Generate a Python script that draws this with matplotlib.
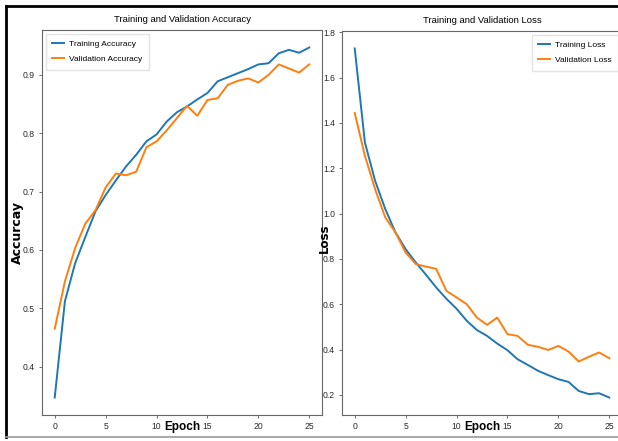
import matplotlib
matplotlib.use("Agg")
import matplotlib.pyplot as plt
from matplotlib.lines import Line2D

plt.rcParams['font.family'] = ['Liberation Sans', 'DejaVu Sans']

epochs = list(range(26))

train_acc = [0.347, 0.512, 0.577, 0.622, 0.666, 0.694, 0.719, 0.743, 0.763, 0.786,
             0.798, 0.820, 0.836, 0.846, 0.858, 0.869, 0.889, 0.896, 0.903, 0.910,
             0.918, 0.920, 0.937, 0.943, 0.938, 0.947]
val_acc = [0.465, 0.546, 0.603, 0.645, 0.668, 0.707, 0.731, 0.728, 0.734, 0.776,
           0.786, 0.805, 0.826, 0.847, 0.830, 0.857, 0.860, 0.883, 0.890, 0.894,
           0.887, 0.900, 0.918, 0.911, 0.904, 0.918]

train_loss = [1.729, 1.314, 1.145, 1.020, 0.917, 0.843, 0.784, 0.730, 0.674, 0.624,
              0.580, 0.527, 0.486, 0.460, 0.426, 0.397, 0.357, 0.332, 0.306, 0.287,
              0.269, 0.257, 0.217, 0.203, 0.207, 0.188]
val_loss = [1.444, 1.255, 1.108, 0.983, 0.917, 0.828, 0.777, 0.766, 0.756, 0.659,
            0.630, 0.600, 0.541, 0.509, 0.541, 0.468, 0.460, 0.421, 0.412, 0.398,
            0.416, 0.391, 0.347, 0.368, 0.387, 0.362]

W, H = 618, 441
fig = plt.figure(figsize=(W / 100, H / 100), dpi=100)

ax1 = fig.add_axes([42 / W, 1 - 415 / H, 280 / W, 385 / H])
ax2 = fig.add_axes([342 / W, 1 - 415 / H, 280 / W, 384 / H])

tick_kw = dict(labelsize=6.2, labelcolor='#2a2a2a', length=2.5, width=0.6,
               color='#555555', pad=2.5)
leg_kw = dict(fontsize=6, handlelength=1.4, borderpad=0.8, labelspacing=0.85,
              handletextpad=0.6, fancybox=False, edgecolor='#dddddd',
              borderaxespad=0.45)

ax1.plot(epochs, train_acc, color='#1f77b4', lw=1.4, label='Training Accuracy')
ax1.plot(epochs, val_acc, color='#ff7f0e', lw=1.4, label='Validation Accuracy')
ax1.set_title('Training and Validation Accuracy', fontsize=6.8, pad=6)
ax1.set_xlabel('Epoch', fontsize=8.5, fontweight='bold', labelpad=-7)
ax1.set_ylabel('Accurcay', fontsize=9, fontweight='bold', family='DejaVu Sans')
ax1.yaxis.set_label_coords(-0.063, 0.473)
ax1.legend(loc='upper left', **leg_kw)

ax2.plot(epochs, train_loss, color='#1f77b4', lw=1.4, label='Training Loss')
ax2.plot(epochs, val_loss, color='#ff7f0e', lw=1.4, label='Validation Loss')
ax2.set_title('Training and Validation Loss', fontsize=6.8, pad=6)
ax2.set_xlabel('Epoch', fontsize=8.5, fontweight='bold', labelpad=-7)
ax2.set_ylabel('Loss', fontsize=8.5, fontweight='bold', family='DejaVu Sans')
ax2.yaxis.set_label_coords(-0.04, 0.46)
ax2.legend(loc='upper right', **leg_kw)

for ax in (ax1, ax2):
    ax.tick_params(**tick_kw)
    ax.set_xticks([0, 5, 10, 15, 20, 25])
    for s in ax.spines.values():
        s.set_color('#666666')
        s.set_linewidth(0.8)

ax2.set_yticks([0.2, 0.4, 0.6, 0.8, 1.0, 1.2, 1.4, 1.6, 1.8])

# screenshot frame
fig.add_artist(Line2D([6 / W, 6 / W], [1 - 6 / H, 1 - 437 / H], color='black', lw=2))
fig.add_artist(Line2D([6 / W, 1], [1 - 6 / H, 1 - 6 / H], color='black', lw=2))
fig.add_artist(Line2D([6 / W, 1], [1 - 437 / H, 1 - 437 / H], color='#999999', lw=1.2))

fig.savefig('out.png', dpi=100)
